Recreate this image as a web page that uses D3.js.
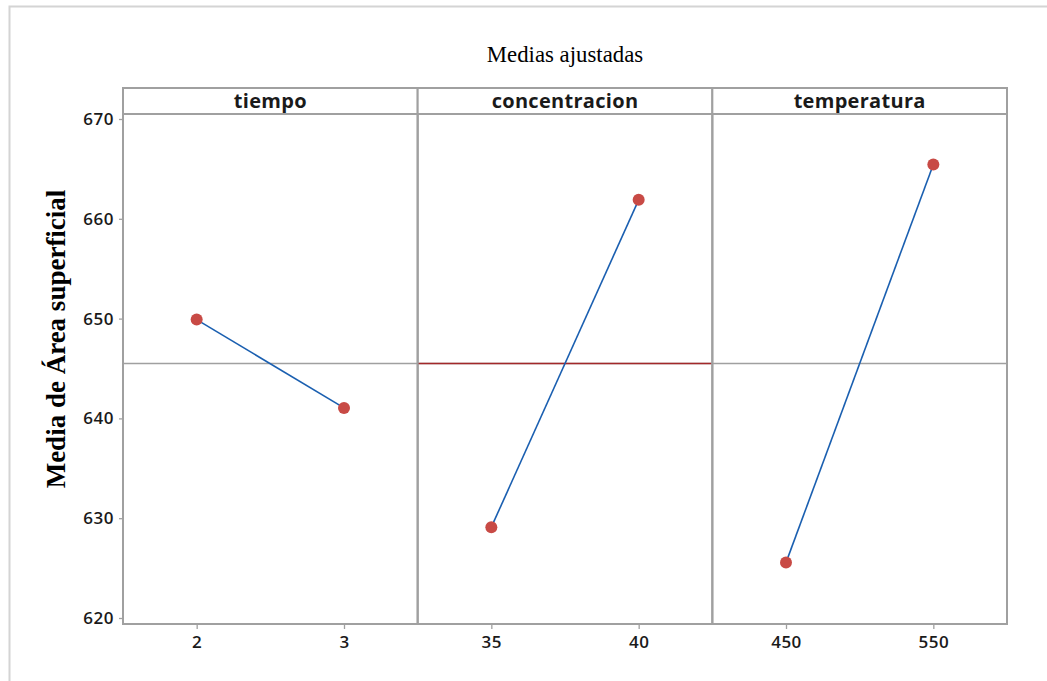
<!DOCTYPE html>
<html>
<head>
<meta charset="utf-8">
<script src="https://cdn.jsdelivr.net/npm/d3@7"></script>
<style>
  body { margin: 0; background: #fff; }
  svg { display: block; }
</style>
</head>
<body>
<div id="chart-area"></div>
<script>
// data
var factors = ["tiempo", "concentracion", "temperatura"];
var levels = [["2", "3"], ["35", "40"], ["450", "550"]];
var means = [[649.9, 641.05], [629.1, 661.9], [625.55, 665.45]];
var grandMean = 645.5;
var yTicks = [620, 630, 640, 650, 660, 670];

var width = 1047, height = 681;
var margin = { top: 114, left: 123, right: 40, bottom: 57 };
var headerH = 26;
var plotW = width - margin.left - margin.right;
var plotH = height - margin.top - margin.bottom;

var svg = d3.select("#chart-area")
    .append("svg")
    .attr("width", width)
    .attr("height", height);

// outer frame (top and left only visible)
svg.append("path")
    .attr("d", "M9.5," + height + "V6.5H" + width)
    .attr("fill", "none")
    .attr("stroke", "#d4d4d4")
    .attr("stroke-width", 2);

// title
svg.append("text")
    .attr("x", 565)
    .attr("y", 62)
    .attr("text-anchor", "middle")
    .attr("font-family", "Liberation Serif, Times New Roman, serif")
    .attr("font-size", "24px")
    .attr("transform", "translate(565,0) scale(0.95,1) translate(-565,0)")
    .text("Medias ajustadas");

// y label
svg.append("text")
    .attr("transform", "translate(65,339) rotate(-90)")
    .attr("text-anchor", "middle")
    .attr("font-family", "Liberation Serif, Times New Roman, serif")
    .attr("font-weight", "bold")
    .attr("font-size", "27px")
    .text("Media de Área superficial");

// SCALES
var panel = d3.scaleBand()
    .domain(factors)
    .range([margin.left, margin.left + plotW])
    .padding(0);

var y = d3.scaleLinear()
    .domain([620, 670])
    .range([618, 119]);

var gray = "#a0a0a0";

// y axis
var yAxis = svg.append("g")
    .attr("transform", "translate(" + margin.left + ",0)")
    .call(d3.axisLeft(y).tickValues(yTicks).tickSize(4).tickPadding(5));
yAxis.select(".domain").remove();
yAxis.selectAll("line").attr("stroke", gray).attr("stroke-width", 1.3);
yAxis.selectAll("text")
    .attr("font-family", "Open Sans, sans-serif")
    .attr("font-weight", 600)
    .attr("font-size", "17px")
    .attr("letter-spacing", "0.5px")
    .attr("fill", "#1a1a1a");

// reference line across all panels (gray)
svg.append("line")
    .attr("x1", margin.left).attr("x2", margin.left + plotW)
    .attr("y1", y(grandMean)).attr("y2", y(grandMean))
    .attr("stroke", gray).attr("stroke-width", 1.5);

factors.forEach(function(f, i) {
    var x0 = panel(f);
    var bw = panel.bandwidth();
    var x = d3.scalePoint()
        .domain(levels[i])
        .range([x0, x0 + bw])
        .padding(0.5);

    var g = svg.append("g");

    // header strip
    g.append("rect")
        .attr("x", x0).attr("y", margin.top - headerH)
        .attr("width", bw).attr("height", headerH)
        .attr("fill", "#fff")
        .attr("stroke", gray).attr("stroke-width", 2);
    g.append("text")
        .attr("x", x0 + bw / 2)
        .attr("y", margin.top - 6)
        .attr("text-anchor", "middle")
        .attr("font-family", "Open Sans, sans-serif")
        .attr("font-weight", 700)
        .attr("font-size", "20px")
        .attr("letter-spacing", "0.3px")
        .attr("fill", "#1a1a1a")
        .text(f);

    // panel frame
    g.append("rect")
        .attr("x", x0).attr("y", margin.top)
        .attr("width", bw).attr("height", plotH)
        .attr("fill", "none")
        .attr("stroke", gray).attr("stroke-width", 2);

    // middle panel reference line in dark red
    if (i === 1) {
        g.append("line")
            .attr("x1", x0 + 1).attr("x2", x0 + bw - 1)
            .attr("y1", y(grandMean)).attr("y2", y(grandMean))
            .attr("stroke", "#a3282a").attr("stroke-width", 1.6);
    }

    // x axis
    var xa = g.append("g")
        .attr("transform", "translate(0," + (margin.top + plotH) + ")")
        .call(d3.axisBottom(x).tickSize(5).tickPadding(7));
    xa.select(".domain").remove();
    xa.selectAll("line").attr("stroke", gray).attr("stroke-width", 1.3);
    xa.selectAll("text")
        .attr("font-family", "Open Sans, sans-serif")
        .attr("font-weight", 600)
        .attr("font-size", "17px")
        .attr("letter-spacing", "0.5px")
        .attr("fill", "#1a1a1a");

    var pts = levels[i].map(function(l, j) { return { lv: l, v: means[i][j] }; });

    g.append("path")
        .datum(pts)
        .attr("fill", "none")
        .attr("stroke", "#1a5fb0")
        .attr("stroke-width", 1.6)
        .attr("d", d3.line().x(function(d) { return x(d.lv); }).y(function(d) { return y(d.v); }));

    g.selectAll("circle").data(pts).enter()
        .append("circle")
        .attr("cx", function(d) { return x(d.lv); })
        .attr("cy", function(d) { return y(d.v); })
        .attr("r", 6)
        .attr("fill", "#c84a45");
});
</script>
</body>
</html>
